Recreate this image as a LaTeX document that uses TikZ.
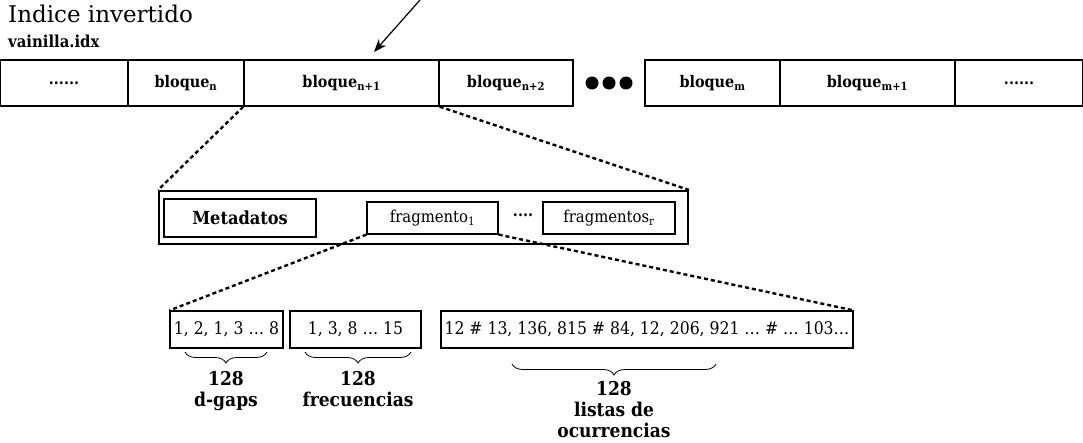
\documentclass[tikz,border=0pt]{standalone}
\usepackage{fontspec}
\setmainfont{DejaVu Serif Condensed}
\newfontfamily\titlefont{DejaVu Serif}
\usetikzlibrary{decorations.pathreplacing,arrows.meta}
\begin{document}
\begin{tikzpicture}[x=1pt,y=-1pt,
  cell/.style={draw,line width=1.4pt,minimum height=46pt,inner sep=0pt,font=\fontsize{16}{19}\selectfont\bfseries},
  midbox/.style={draw,line width=1.2pt,inner sep=0pt,font=\fontsize{16.5}{19}\selectfont},
  botbox/.style={draw,line width=1.2pt,minimum height=37pt,inner sep=0pt,font=\fontsize{17.4}{20}\selectfont},
  zoomline/.style={line width=2.4pt,dash pattern=on 4pt off 3pt},
  bracedec/.style={decorate,decoration={brace,mirror,amplitude=11pt},line width=0.8pt},
  lbl/.style={align=center,font=\fontsize{19}{21}\selectfont\bfseries,inner sep=0pt,anchor=north},
  dot/.style={circle,fill=black,minimum size=13pt,inner sep=0pt}
]
\useasboundingbox (0,0) rectangle (1083,442);

% titles
\node[anchor=base west,inner sep=0pt,font=\titlefont\fontsize{23}{26}\selectfont] (title) at (8,22) {Indice invertido};
\node[anchor=base west,inner sep=0pt,font=\fontsize{16.5}{19}\selectfont\bfseries] (file) at (8,47) {vainilla.idx};

% top row
\node[cell,minimum width=128pt] (c1) at (64,83) {......};
\node[cell,minimum width=116pt] (c2) at (186,83) {bloque\textsubscript{n}};
\node[cell,minimum width=195pt] (c3) at (341.5,83) {bloque\textsubscript{n+1}};
\node[cell,minimum width=134pt] (c4) at (506,83) {bloque\textsubscript{n+2}};
\node[dot] (d1) at (592,83) {};
\node[dot] (d2) at (609,83) {};
\node[dot] (d3) at (626,83) {};
\node[cell,minimum width=135pt] (c5) at (712.5,83) {bloque\textsubscript{m}};
\node[cell,minimum width=175pt] (c6) at (867.5,83) {bloque\textsubscript{m+1}};
\node[cell,minimum width=128pt] (c7) at (1019,83) {......};

% arrow
\coordinate (aS) at (420,0);
\coordinate (aE) at (374,52);
\draw[line width=1.2pt,-{Stealth[length=13pt,width=10pt]}] (aS) -- (aE);

% middle container
\node[draw,line width=2pt,minimum width=529pt,minimum height=53pt,inner sep=0pt] (cont) at (423.5,217.5) {};
\node[midbox,line width=1.6pt,minimum width=152pt,minimum height=38pt,font=\fontsize{18}{21}\selectfont\bfseries] (meta) at (240,218) {Metadatos};
\node[midbox,minimum width=131pt,minimum height=32pt] (f1) at (432.5,218) {fragmento\textsubscript{1}};
\node[inner sep=0pt,font=\fontsize{16}{19}\selectfont\bfseries] (fd) at (523,215) {....};
\node[midbox,minimum width=132pt,minimum height=32pt] (fr) at (609,218) {fragmentos\textsubscript{r}};

\draw[zoomline] (c3.south west) -- (cont.north west);
\draw[zoomline] (c3.south east) -- (cont.north east);

% bottom boxes
\node[botbox,minimum width=113pt] (b1) at (226.5,329.5) {1, 2, 1, 3 … 8};
\node[botbox,minimum width=131pt] (b2) at (355.5,329.5) {1, 3, 8 … 15};
\node[botbox,minimum width=412pt] (b3) at (647,329.5) {12 \# 13, 136, 815 \# 84, 12, 206, 921 … \# … 103…};

\draw[zoomline] (f1.south west) -- (b1.north west);
\draw[zoomline] (f1.south east) -- (b3.north east);

% braces
\coordinate (g1a) at (185,352); \coordinate (g1b) at (267,352);
\coordinate (g2a) at (305,352); \coordinate (g2b) at (411,352);
\coordinate (g3a) at (512,364); \coordinate (g3b) at (716,364);
\draw[bracedec] (g1a) -- (g1b);
\draw[bracedec] (g2a) -- (g2b);
\draw[bracedec] (g3a) -- (g3b);

\node[lbl] (l1) at (226,371) {128\\d-gaps};
\node[lbl] (l2) at (358,371) {128\\frecuencias};
\node[lbl] (l3) at (614,381) {128\\listas de\\ocurrencias};
\end{tikzpicture}
\end{document}
